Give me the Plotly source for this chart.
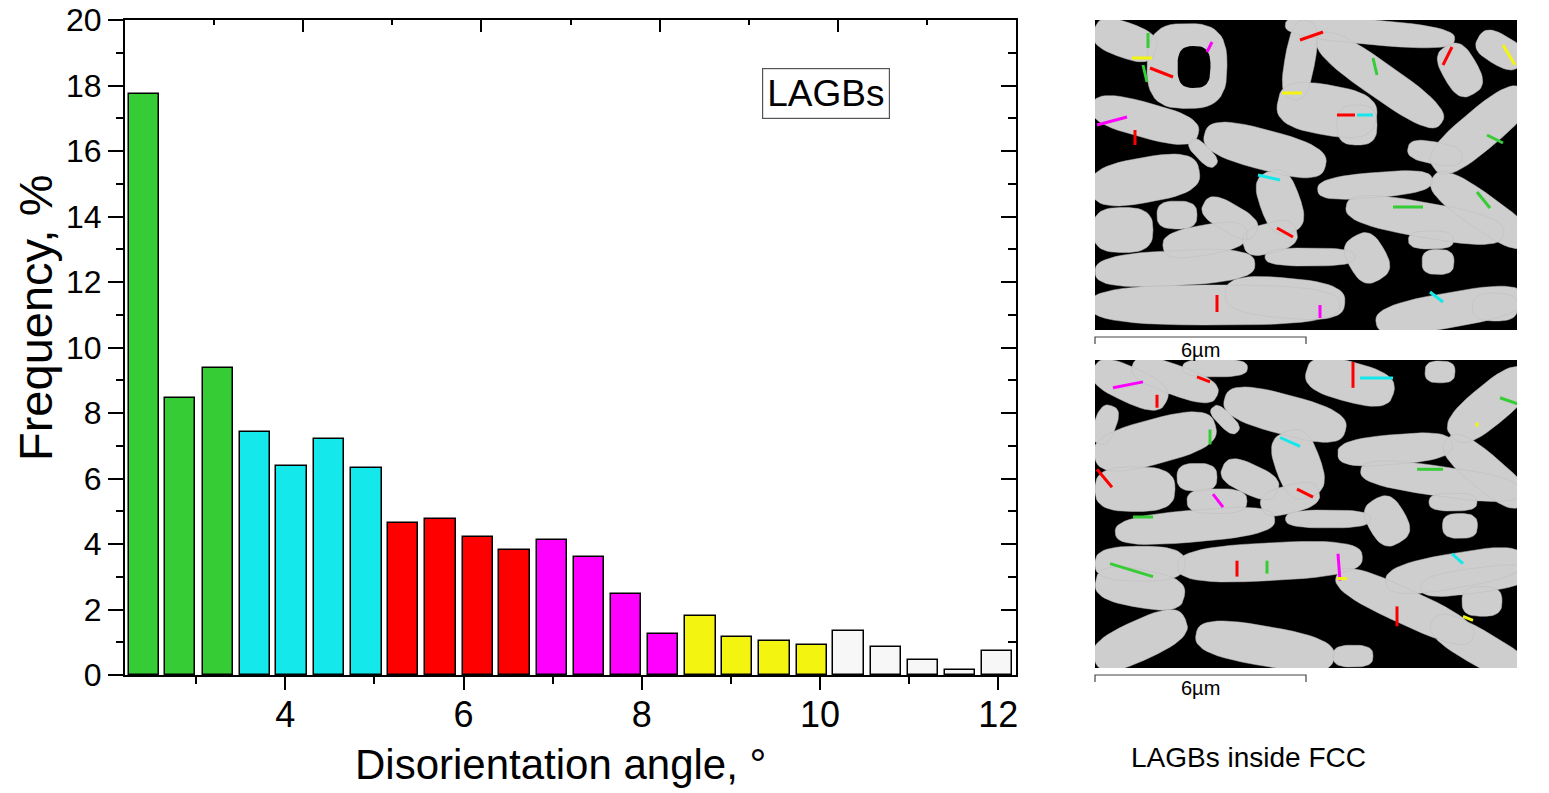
import numpy as np
import plotly.graph_objects as go

# disorientation histogram (LAGBs)
angle = [2.41, 2.82, 3.24, 3.66, 4.07, 4.49, 4.91, 5.32, 5.74, 6.16, 6.57, 6.99,
         7.41, 7.82, 8.24, 8.66, 9.07, 9.49, 9.91, 10.32, 10.74, 11.16, 11.57, 11.99]
frequency = [17.75, 8.45, 9.38, 7.42, 6.38, 7.22, 6.32, 4.65, 4.75, 4.22, 3.82, 4.12,
             3.60, 2.47, 1.25, 1.80, 1.17, 1.04, 0.91, 1.35, 0.85, 0.46, 0.15, 0.72]
x_ticks = [4, 6, 8, 10, 12]
y_ticks = [0, 2, 4, 6, 8, 10, 12, 14, 16, 18, 20]

# colour of each bar = colour of the boundaries in the maps
GREEN, CYAN, RED, MAGENTA, YELLOW, WHITE = '#36cc36', '#14e8ea', '#ff0000', '#ff00ff', '#f4f411', '#f7f7f7'
bar_colors = [GREEN] * 3 + [CYAN] * 4 + [RED] * 4 + [MAGENTA] * 4 + [YELLOW] * 4 + [WHITE] * 5

FONT = 'Arial, "Liberation Sans", sans-serif'
W, H = 1549, 793
OFF = 8  # page body margin


def px(x):
    return (x - OFF) / W


def py(y):
    return 1 - (y - OFF) / H


# rough sketch of the two EBSD maps (grain outlines in local pixels: cx, cy, length, width, angle)
map_top = [
    (30, 20, 65, 35, -20), (92, 46, 80, 85, 0), (205, 40, 80, 30, 80), (275, 12, 170, 25, -5),
    (285, 60, 150, 35, -35), (365, 50, 55, 35, -60), (405, 30, 50, 30, -30), (232, 90, 100, 50, -10),
    (262, 105, 40, 40, 0), (50, 100, 110, 35, -15), (108, 133, 35, 15, -45), (170, 130, 125, 40, -15),
    (50, 160, 110, 45, 10), (185, 182, 65, 40, -70), (385, 110, 120, 40, 40), (340, 133, 55, 22, -10),
    (280, 165, 115, 25, 5), (385, 190, 115, 35, -35), (330, 200, 160, 35, -10), (28, 210, 60, 45, 0),
    (82, 195, 40, 28, 0), (110, 220, 85, 30, 10), (135, 198, 60, 28, -30), (175, 218, 55, 30, 15),
    (80, 248, 160, 35, 3), (215, 237, 90, 18, 0), (272, 238, 50, 38, -60), (336, 220, 45, 18, 0),
    (343, 242, 32, 25, 0), (120, 285, 250, 40, 0), (190, 278, 120, 40, -5), (355, 290, 150, 35, 10),
    (400, 287, 45, 28, 0),
]
holes_top = [(99, 47, 33, 42, 0)]
map_bottom = [
    (35, 25, 80, 35, -25), (80, 20, 90, 30, -20), (120, 8, 65, 18, 0), (255, 22, 90, 40, -15),
    (345, 12, 30, 22, 0), (395, 45, 100, 40, 40), (10, 65, 40, 22, 70), (60, 82, 125, 45, 15),
    (130, 60, 35, 15, -45), (190, 55, 125, 40, -15), (203, 105, 70, 45, -70), (300, 90, 115, 30, 5),
    (390, 112, 100, 35, -40), (345, 122, 160, 30, -8), (40, 130, 80, 45, 0), (102, 118, 40, 28, 0),
    (155, 120, 60, 30, -25), (122, 142, 60, 25, 0), (195, 140, 60, 28, 15), (100, 167, 160, 32, 5),
    (233, 160, 85, 18, 0), (292, 162, 50, 38, -60), (358, 143, 48, 18, 0), (365, 167, 35, 25, 0),
    (45, 205, 90, 35, 0), (175, 203, 185, 38, 3), (45, 230, 90, 38, -10), (310, 248, 150, 35, -25),
    (360, 212, 140, 35, 10), (380, 222, 110, 25, 8), (387, 243, 40, 30, 0), (45, 282, 100, 40, 25),
    (170, 288, 140, 40, -10), (258, 298, 40, 22, 0), (385, 290, 110, 35, -30),
]
holes_bottom = []
# boundary segments drawn on the maps: colour -> list of ((x0, y0), (x1, y1))
edges_top = {
    YELLOW: [((37, 38), (57, 38)), ((187, 73), (207, 73)), ((408, 25), (420, 45))],
    GREEN: [((53, 13), (53, 28)), ((48, 45), (52, 62)), ((278, 38), (282, 55)), ((298, 187), (328, 187)),
            ((382, 172), (395, 188)), ((392, 115), (408, 123))],
    RED: [((55, 48), (78, 57)), ((205, 20), (228, 12)), ((357, 27), (348, 45)), ((122, 275), (122, 292)),
          ((242, 95), (260, 95)), ((182, 208), (198, 217)), ((40, 110), (40, 125))],
    MAGENTA: [((2, 105), (32, 97)), ((117, 22), (112, 32)), ((225, 285), (225, 298))],
    CYAN: [((163, 155), (185, 160)), ((262, 95), (278, 95)), ((335, 272), (348, 282))],
}
edges_bottom = {
    MAGENTA: [((18, 28), (48, 22)), ((118, 135), (128, 148)), ((243, 195), (245, 222))],
    RED: [((62, 35), (62, 48)), ((102, 17), (115, 22)), ((202, 130), (218, 138)), ((142, 202), (142, 218)),
          ((258, 2), (258, 28)), ((2, 110), (17, 128)), ((302, 248), (302, 268))],
    CYAN: [((185, 78), (205, 87)), ((265, 18), (298, 18)), ((357, 195), (368, 205))],
    GREEN: [((115, 70), (115, 85)), ((322, 110), (348, 110)), ((38, 158), (58, 158)), ((172, 202), (172, 215)),
            ((405, 38), (425, 45)), ((15, 205), (58, 218))],
    YELLOW: [((382, 63), (382, 67)), ((242, 220), (252, 220)), ((368, 258), (378, 262))],
}


def grain_paths(grains):
    xs, ys = [], []
    t = np.linspace(0, 2 * np.pi, 48)
    for cx, cy, length, width, ang in grains:
        a = np.radians(ang)
        c, s = np.cos(t), np.sin(t)
        u = length / 2 * np.sign(c) * np.abs(c) ** 0.7
        v = width / 2 * np.sign(s) * np.abs(s) ** 0.7
        xs += list(cx + u * np.cos(a) + v * np.sin(a)) + [None]
        ys += list(cy - u * np.sin(a) + v * np.cos(a)) + [None]
    return xs, ys


fig = go.Figure()

fig.add_trace(go.Bar(
    x=angle, y=frequency, width=0.34,
    marker=dict(color=bar_colors, line=dict(color='black', width=1.5)),
    showlegend=False,
))
# mirror axes (top / right), ticks inside
fig.add_trace(go.Scatter(x=[None], y=[None], xaxis='x4', yaxis='y4', showlegend=False, hoverinfo='skip'))

for xa, ya, grains, holes, edges in [('x2', 'y2', map_top, holes_top, edges_top),
                                     ('x3', 'y3', map_bottom, holes_bottom, edges_bottom)]:
    gx, gy = grain_paths(grains)
    fig.add_trace(go.Scatter(x=gx, y=gy, xaxis=xa, yaxis=ya, mode='lines', fill='toself',
                             fillcolor='#cecece', line=dict(width=0.5, color='#bdbdbd'),
                             showlegend=False, hoverinfo='skip'))
    if holes:
        hx, hy = grain_paths(holes)
        fig.add_trace(go.Scatter(x=hx, y=hy, xaxis=xa, yaxis=ya, mode='lines', fill='toself',
                                 fillcolor='black', line=dict(width=0, color='black'),
                                 showlegend=False, hoverinfo='skip'))
    for col, segs in edges.items():
        ex, ey = [], []
        for (x0, y0), (x1, y1) in segs:
            ex += [x0, x1, None]
            ey += [y0, y1, None]
        fig.add_trace(go.Scatter(x=ex, y=ey, xaxis=xa, yaxis=ya, mode='lines',
                                 line=dict(color=col, width=3), showlegend=False, hoverinfo='skip'))

map_axis = dict(range=[0, 422], showgrid=False, zeroline=False, showticklabels=False,
                ticks='', showline=False, fixedrange=True, automargin=False)
map_yaxis = dict(map_axis, range=[310, 0])

fig.update_layout(
    width=W, height=H,
    margin=dict(l=0, r=0, t=0, b=0, autoexpand=False),
    paper_bgcolor='white', plot_bgcolor='white',
    font=dict(family=FONT, color='black'),
    bargap=0,
    xaxis=dict(
        domain=[px(125), px(1016)], range=[2.2, 12.2], anchor='y', automargin=False,
        tickvals=x_ticks, ticks='outside', ticklen=13, tickwidth=2, tickcolor='black',
        minor=dict(dtick=1, tick0=0, ticks='outside', ticklen=7, tickwidth=2, tickcolor='black'),
        showline=True, linewidth=2, linecolor='black', showgrid=False, zeroline=False,
        tickfont=dict(size=36), ticklabelstandoff=-6, ticklabeloverflow='allow',
    ),
    yaxis=dict(
        domain=[py(675), py(20)], range=[0, 20], anchor='x', automargin=False,
        tickvals=y_ticks, ticks='outside', ticklen=15, tickwidth=2, tickcolor='black',
        minor=dict(dtick=1, tick0=0, ticks='outside', ticklen=7, tickwidth=2, tickcolor='black'),
        showline=True, linewidth=2, linecolor='black', showgrid=False, zeroline=False,
        tickfont=dict(size=32), ticklabeloverflow='allow',
    ),
    xaxis4=dict(
        overlaying='x', side='top', anchor='y4', range=[2.2, 12.2], automargin=False,
        tick0=0.2, dtick=2, ticks='inside', ticklen=12, tickwidth=2, tickcolor='black',
        minor=dict(dtick=1, tick0=0.2, ticks='inside', ticklen=5, tickwidth=2, tickcolor='black'),
        showline=True, linewidth=2, linecolor='black', showticklabels=False,
        showgrid=False, zeroline=False,
    ),
    yaxis4=dict(
        overlaying='y', side='right', anchor='x4', range=[0, 20], automargin=False,
        dtick=2, ticks='inside', ticklen=15, tickwidth=2, tickcolor='black',
        minor=dict(dtick=1, ticks='inside', ticklen=8, tickwidth=2, tickcolor='black'),
        showline=True, linewidth=2, linecolor='black', showticklabels=False,
        showgrid=False, zeroline=False,
    ),
    xaxis2=dict(map_axis, domain=[px(1095), px(1517)], anchor='y2'),
    yaxis2=dict(map_yaxis, domain=[py(330), py(20)], anchor='x2'),
    xaxis3=dict(map_axis, domain=[px(1095), px(1517)], anchor='y3'),
    yaxis3=dict(map_yaxis, domain=[py(668), py(360)], anchor='x3'),
)

# axis titles
fig.add_annotation(x=px(560), y=py(764), xref='paper', yref='paper', text='Disorientation angle, °',
                   xanchor='center', yanchor='middle', showarrow=False, font=dict(size=42))
fig.add_annotation(x=px(36), y=py(318), xref='paper', yref='paper', text='Frequency, %',
                   textangle=-90, xanchor='center', yanchor='middle', showarrow=False,
                   font=dict(size=47))

# black background of the maps
for xa, ya in [('x2', 'y2'), ('x3', 'y3')]:
    fig.add_shape(type='rect', xref=f'{xa} domain', yref=f'{ya} domain', x0=0, x1=1, y0=0, y1=1,
                  fillcolor='black', line=dict(width=0), layer='below')

# scale bars
for ybar in [337, 675]:
    fig.add_shape(type='path', xref='paper', yref='paper',
                  path=(f'M {px(1095)},{py(ybar + 7)} L {px(1095)},{py(ybar)} '
                        f'L {px(1306)},{py(ybar)} L {px(1306)},{py(ybar + 7)}'),
                  line=dict(color='#444444', width=1.2))
    fig.add_annotation(x=px(1200), y=py(ybar + 13), xref='paper', yref='paper', text='6µm',
                       xanchor='center', yanchor='middle',
                       showarrow=False, font=dict(size=20, color='black'))

fig.add_annotation(x=px(1248), y=py(757), xref='paper', yref='paper', text='LAGBs inside FCC',
                   xanchor='center', yanchor='middle',
                   showarrow=False, font=dict(size=28, color='black'))

fig.add_annotation(x=px(826), y=py(93), xref='paper', yref='paper', text='LAGBs',
                   xanchor='center', yanchor='middle',
                   showarrow=False, font=dict(size=37, color='black'),
                   bordercolor='#555555', borderwidth=1.2, borderpad=4, bgcolor='white')

fig.write_html('out.html')
